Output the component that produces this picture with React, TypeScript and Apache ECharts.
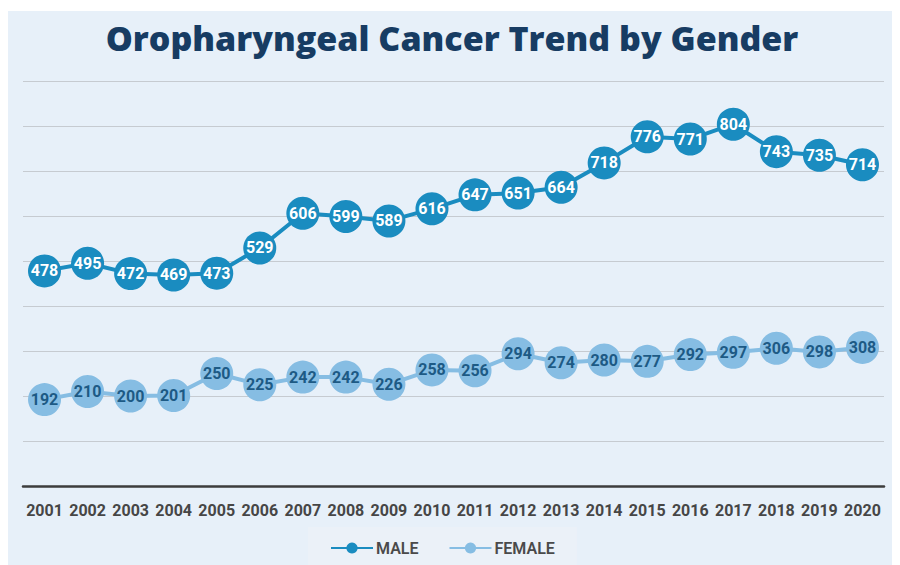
import React, { useEffect, useRef } from "react";
import * as echarts from "echarts";

const years = ["2001","2002","2003","2004","2005","2006","2007","2008","2009","2010","2011","2012","2013","2014","2015","2016","2017","2018","2019","2020"];
const maleValues = [478, 495, 472, 469, 473, 529, 606, 599, 589, 616, 647, 651, 664, 718, 776, 771, 804, 743, 735, 714];
const femaleValues = [192, 210, 200, 201, 250, 225, 242, 242, 226, 258, 256, 294, 274, 280, 277, 292, 297, 306, 298, 308];
const seriesNames = ["MALE", "FEMALE"];

export default function App() {
  const ref = useRef<HTMLDivElement>(null);
  useEffect(() => {
    if (!ref.current) return;
    const chart = echarts.init(ref.current, null, { renderer: "svg" });
    chart.setOption({
      animation: false,
      backgroundColor: "#e7f0f9",
      title: {
        text: "Oropharyngeal Cancer Trend by Gender",
        left: "center",
        top: 5,
        textStyle: {
          fontFamily: "Open Sans",
          fontWeight: 800,
          fontSize: 34,
          color: "#173c63",
        },
      },
      legend: {
        bottom: 0,
        left: 300,
        itemWidth: 42,
        itemHeight: 14,
        itemGap: 30,
        padding: [13, 22, 9, 22],
        backgroundColor: "#ebf1f8",
        textStyle: { fontFamily: "Roboto", fontWeight: 600, fontSize: 16, color: "#4a4a4a", padding: [0, 0, 0, -2] },
        data: seriesNames,
      },
      grid: { left: 15, right: 12, top: 70, bottom: 79 },
      xAxis: {
        type: "category",
        data: years,
        boundaryGap: true,
        axisLine: { lineStyle: { color: "#3d3d3d", width: 2.5 } },
        axisTick: { show: false },
        axisLabel: {
          fontFamily: "Roboto",
          fontWeight: "bold",
          fontSize: 16,
          color: "#464646",
          margin: 16,
          interval: 0,
        },
      },
      yAxis: {
        type: "value",
        min: 0,
        max: 900,
        interval: 100,
        axisLabel: { show: false },
        axisLine: { show: false },
        axisTick: { show: false },
        splitLine: { lineStyle: { color: "#c6cbd1", width: 1 } },
      },
      series: [
        {
          name: seriesNames[0],
          type: "line",
          data: maleValues,
          symbol: "circle",
          symbolSize: 33,
          itemStyle: { color: "#1a8cc0" },
          lineStyle: { color: "#1a8cc0", width: 4 },
          label: {
            show: true,
            position: "inside",
            fontFamily: "Roboto",
            fontWeight: "bold",
            fontSize: 16,
            color: "#ffffff",
          },
          z: 3,
        },
        {
          name: seriesNames[1],
          type: "line",
          data: femaleValues,
          symbol: "circle",
          symbolSize: 33,
          itemStyle: { color: "#86bde3" },
          lineStyle: { color: "#86bde3", width: 4 },
          label: {
            show: true,
            position: "inside",
            fontFamily: "Roboto",
            fontWeight: "bold",
            fontSize: 16,
            color: "#1d5a85",
          },
          z: 2,
        },
      ],
    });
    return () => chart.dispose();
  }, []);
  return <div ref={ref} style={{ width: 888, height: 554, marginTop: 3 }} />;
}
